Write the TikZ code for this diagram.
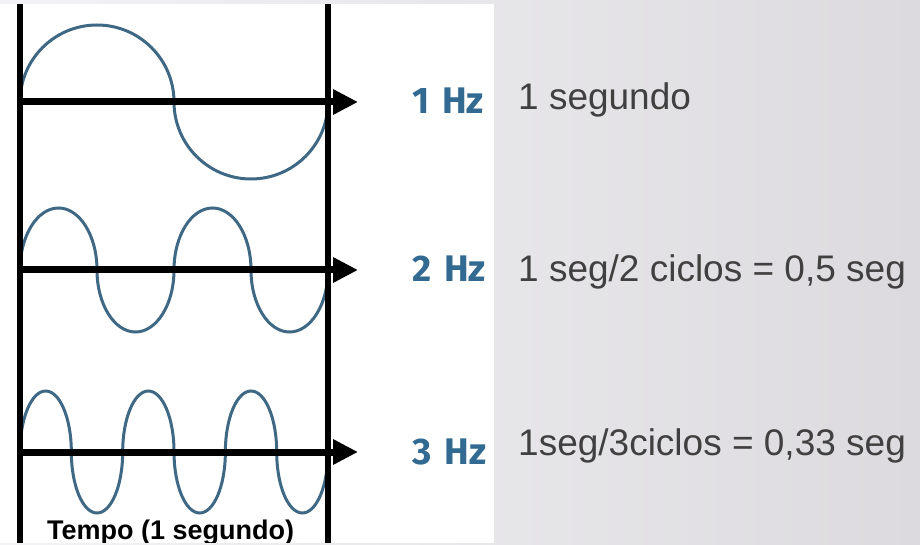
\documentclass[tikz,border=0pt]{standalone}
\usepackage{fontspec}
\setmainfont{Liberation Sans}
\newfontfamily\hzfont{Fira Sans}
\usetikzlibrary{arrows.meta}
\definecolor{wave}{RGB}{62,104,132}
\definecolor{hzblue}{RGB}{50,106,146}
\definecolor{txt}{RGB}{64,64,64}
\definecolor{bgL}{RGB}{243,243,245}
\definecolor{bgR}{RGB}{220,218,222}
\begin{document}
\begin{tikzpicture}[x=1pt,y=1pt,
  axisline/.style={line width=6pt, draw=black},
  timeline/.style={line width=7pt, draw=black, -{Triangle[length=25pt,width=24pt]}},
  wavepath/.style={draw=wave, line width=3pt},
  hzlabel/.style={font=\hzfont\bfseries\fontsize{37}{40}\selectfont, text=hzblue, anchor=base west, inner sep=0pt},
  desc/.style={font=\fontsize{37}{40}\selectfont, text=txt, anchor=base west, inner sep=0pt},
  tempo/.style={font=\bfseries\fontsize{27}{30}\selectfont, text=black, anchor=base west, inner sep=0pt}]
\useasboundingbox (0,0) rectangle (920,544);
\shade[left color=bgL, right color=bgR] (0,0) rectangle (920,544);
\begin{scope}
\clip (0,2) rectangle (494,539);
\fill[white] (0,0) rectangle (494,544);
% coordinates
\coordinate (L1) at (20,442); \coordinate (T1) at (358,442);
\coordinate (L2) at (20,274); \coordinate (T2) at (358,274);
\coordinate (L3) at (20,92);  \coordinate (T3) at (358,92);
% waves
\draw[wavepath] (L1) arc[start angle=180,end angle=0,x radius=77,y radius=77]
  arc[start angle=180,end angle=360,x radius=77,y radius=77];
\draw[wavepath] (L2)
  arc[start angle=180,end angle=0,x radius=38.5,y radius=62]
  arc[start angle=180,end angle=360,x radius=38.5,y radius=62]
  arc[start angle=180,end angle=0,x radius=38.5,y radius=62]
  arc[start angle=180,end angle=360,x radius=38.5,y radius=62];
\draw[wavepath] (L3)
  arc[start angle=180,end angle=0,x radius=25.67,y radius=61]
  arc[start angle=180,end angle=360,x radius=25.67,y radius=61]
  arc[start angle=180,end angle=0,x radius=25.67,y radius=61]
  arc[start angle=180,end angle=360,x radius=25.67,y radius=61]
  arc[start angle=180,end angle=0,x radius=25.67,y radius=61]
  arc[start angle=180,end angle=360,x radius=25.67,y radius=61];
% time arrows
\draw[timeline] (L1) -- (T1);
\draw[timeline] (L2) -- (T2);
\draw[timeline] (L3) -- (T3);
% vertical lines
\coordinate (VLt) at (20,544); \coordinate (VLb) at (20,0);
\coordinate (VRt) at (328,544); \coordinate (VRb) at (328,0);
\draw[axisline] (VLt) -- (VLb);
\draw[axisline] (VRt) -- (VRb);
\node[tempo] (tempo) at (47,5) {Tempo (1 segundo)};
% Hz labels
\node[hzlabel] (hz1) at (412,430) {1\hspace{0.35em}Hz};
\node[hzlabel] (hz2) at (412,262) {2\hspace{0.35em}Hz};
\node[hzlabel] (hz3) at (412,80) {3\hspace{0.35em}Hz};
\end{scope}
% descriptions
\node[desc] (d1) at (518,434) {1 segundo};
\node[desc] (d2) at (518,262) {1 seg/2 ciclos = 0,5 seg};
\node[desc] (d3) at (518,89) {1seg/3ciclos = 0,33 seg};
\end{tikzpicture}
\end{document}
